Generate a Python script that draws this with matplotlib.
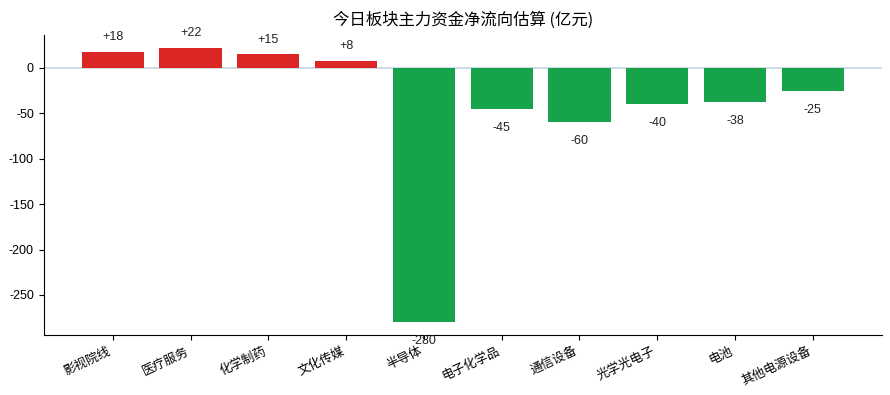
import matplotlib
matplotlib.use("Agg")
import matplotlib.pyplot as plt

plt.rcParams['font.family'] = ['Liberation Sans', 'Noto Sans CJK SC', 'DejaVu Sans']
plt.rcParams['axes.unicode_minus'] = False

sectors = ["影视院线", "医疗服务", "化学制药", "文化传媒", "半导体",
           "电子化学品", "通信设备", "光学光电子", "电池", "其他电源设备"]
flows = [18, 22, 15, 8, -280, -45, -60, -40, -38, -25]
value_labels = ["+18", "+22", "+15", "+8", "-280", "-45", "-60", "-40", "-38", "-25"]

red = "#dc2626"
green = "#16a34a"
colors = [red if v > 0 else green for v in flows]

fig = plt.figure(figsize=(8.9, 3.95), dpi=100)
ax = fig.add_axes([0.049, 0.152, 0.942, 0.759])

x = list(range(len(sectors)))
ax.bar(x, flows, width=0.8, color=colors, zorder=2)
ax.axhline(0, color="#c6d4e3", linewidth=1.2, zorder=1)

for xi, v, lab in zip(x, flows, value_labels):
    if v > 0:
        ax.text(xi, v + 16, lab, ha="center", va="center", fontsize=9, color="#222222")
    else:
        ax.text(xi, v - 21, lab, ha="center", va="center", fontsize=9, color="#222222")

ax.set_xticks(x)
ax.set_xticklabels(sectors, rotation=25, ha="right", fontsize=9,
                   family=['Noto Sans CJK SC', 'DejaVu Sans'])
ax.tick_params(axis="y", labelsize=9)
ax.set_yticks([0, -50, -100, -150, -200, -250])
ax.set_ylim(-294, 36)
ax.set_xlim(-0.89, 9.89)

ax.spines["top"].set_visible(False)
ax.spines["right"].set_visible(False)

fig.suptitle("今日板块主力资金净流向估算 (亿元)", x=0.52, y=0.972, fontsize=11.8,
             family=['Noto Sans CJK SC', 'DejaVu Sans'])

fig.savefig("out.png", dpi=100)
